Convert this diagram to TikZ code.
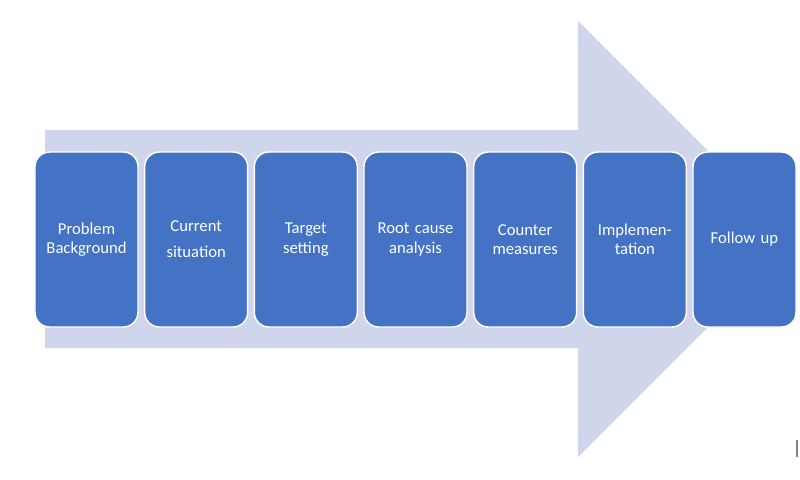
\documentclass[tikz,border=0pt]{standalone}
\usepackage{fontspec}
\setmainfont{Carlito}
\definecolor{stepblue}{HTML}{4472C4}
\definecolor{arrowfill}{HTML}{CFD5EA}
\begin{document}
\begin{tikzpicture}[x=0.75pt,y=-0.75pt,
  stepbox/.style={draw=white,line width=1.1pt,fill=stepblue,rounded corners=11pt,
    minimum width=77.25pt,minimum height=131.25pt,text width=70pt,align=center,
    text=white,font=\fontsize{12.5}{14.5}\selectfont,inner sep=0pt}]
\useasboundingbox (0,0) rectangle (800,479);
% big arrow behind the steps
\fill[arrowfill] (45,130) -- (578,130) -- (578,21) -- (796,239) -- (578,457) -- (578,348) -- (45,348) -- cycle;
\node[stepbox] (problem) at (86.5,239.5) {Problem\\Background};
\node[stepbox] (current) at (196.2,239.5) {Current\\[5pt]situation};
\node[stepbox] (target) at (305.8,239.5) {Target\\setting};
\node[stepbox] (rootcause) at (415.5,239.5) {Root cause\\analysis};
\node[stepbox] (counter) at (525.2,239.5) {Counter\\measures};
\node[stepbox] (implement) at (634.8,239.5) {Implemen-\\tation};
\node[stepbox] (followup) at (744.5,239.5) {Follow up};
\draw[gray,line width=0.8pt] (797,440) -- (797,457);
\end{tikzpicture}
\end{document}
